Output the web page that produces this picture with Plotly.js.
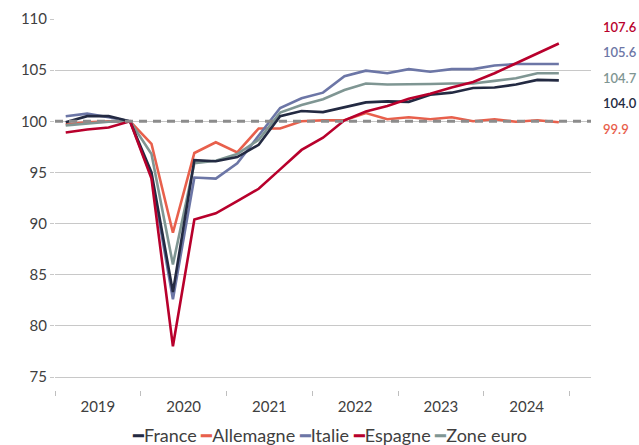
<!DOCTYPE html>
<html>
<head>
<meta charset="utf-8">
<script src="https://cdn.plot.ly/plotly-3.0.1.min.js"></script>
<style>
  html, body { margin: 0; padding: 0; background: #ffffff; }
  #chart { width: 639px; height: 445px; }
</style>
</head>
<body>
<div id="chart"></div>
<script>
// Quarterly index (2019Q4 = 100), 2019Q1 .. 2024Q4
const quarters = [
  "2019T1","2019T2","2019T3","2019T4",
  "2020T1","2020T2","2020T3","2020T4",
  "2021T1","2021T2","2021T3","2021T4",
  "2022T1","2022T2","2022T3","2022T4",
  "2023T1","2023T2","2023T3","2023T4",
  "2024T1","2024T2","2024T3","2024T4"
];
const years = ["2019", "2020", "2021", "2022", "2023", "2024"];

const seriesNames = ["France", "Allemagne", "Italie", "Espagne", "Zone euro"];
const seriesColors = ["#232a42", "#e8604c", "#6c76a6", "#b8002c", "#7f9693"];

const france    = [99.9, 100.5, 100.5, 100, 95.0, 83.3, 96.2, 96.1, 96.5, 97.7, 100.5, 101.0, 100.9, 101.4, 101.85, 101.95, 101.9, 102.6, 102.8, 103.25, 103.3, 103.6, 104.05, 104.0];
const allemagne = [99.7, 99.9, 100.0, 100, 97.8, 89.1, 96.9, 97.95, 96.95, 99.3, 99.3, 100.0, 100.1, 100.1, 100.8, 100.2, 100.4, 100.2, 100.4, 100.0, 100.2, 99.95, 100.1, 99.9];
const italie    = [100.5, 100.75, 100.4, 100, 94.6, 82.6, 94.5, 94.4, 95.9, 98.6, 101.3, 102.25, 102.8, 104.4, 104.95, 104.7, 105.1, 104.85, 105.1, 105.1, 105.45, 105.6, 105.6, 105.6];
const espagne   = [98.9, 99.2, 99.4, 100, 94.4, 78.0, 90.4, 91.0, 92.2, 93.4, 95.3, 97.2, 98.4, 100.1, 100.95, 101.5, 102.2, 102.7, 103.3, 103.85, 104.7, 105.65, 106.65, 107.6];
const zoneEuro  = [99.6, 99.8, 99.95, 100, 96.8, 86.0, 95.9, 96.15, 96.8, 98.2, 100.85, 101.6, 102.15, 103.05, 103.7, 103.6, 103.6, 103.65, 103.7, 103.7, 103.95, 104.2, 104.7, 104.7];

const baseValue = 100;
const allSeries = [france, allemagne, italie, espagne, zoneEuro];

// End labels order (top to bottom)
const labelOrder = [3, 2, 4, 0, 1];

const FONT = "Lato, 'Source Sans Pro', 'Noto Sans', sans-serif";
const xIdx = quarters.map((q, i) => i);

const traces = allSeries.map((vals, k) => ({
  type: "scatter",
  mode: "lines",
  x: xIdx,
  y: vals,
  name: seriesNames[k],
  text: quarters,
  line: { color: seriesColors[k], width: 2.6 },
  showlegend: false,
  hovertemplate: "%{text}: %{y}<extra>" + seriesNames[k] + "</extra>"
}));

// Draw order: Allemagne, Italie, Zone euro, France, Espagne
const drawOrder = [1, 2, 4, 0, 3];
const data = drawOrder.map(k => traces[k]);

const yearCenters = years.map((y, i) => i * 4 + 1.5);

const endLabelY = [0.978, 0.911, 0.841, 0.774, 0.704];
const annotations = labelOrder.map((k, j) => {
  const arr = allSeries[k];
  return {
    xref: "paper", yref: "paper",
    x: 1.019, y: endLabelY[j],
    xanchor: "left", yanchor: "middle",
    text: arr[arr.length - 1].toFixed(1),
    showarrow: false,
    font: { family: FONT, size: 13, color: seriesColors[k], weight: 600 }
  };
});

// Manual legend (short line symbols)
const legendText = seriesNames.map((n, k) =>
  '<span style="color:' + seriesColors[k] + '">━</span>' + n
).join(" ");
annotations.push({
  xref: "paper", yref: "paper",
  x: 0.513, y: -0.122,
  xanchor: "center", yanchor: "middle",
  text: legendText,
  showarrow: false,
  font: { family: FONT, size: 18, color: "#404040" }
});

const layout = {
  width: 639,
  height: 445,
  margin: { l: 55, r: 48, t: 19, b: 55, pad: 0 },
  paper_bgcolor: "#ffffff",
  plot_bgcolor: "#ffffff",
  font: { family: FONT, size: 15, color: "#404040" },
  showlegend: false,
  xaxis: {
    range: [-0.5, 24.5],
    tickmode: "array",
    tickvals: yearCenters,
    ticktext: years,
    ticks: "",
    ticklabelstandoff: 6,
    showgrid: false,
    zeroline: false,
    showline: false,
    tickfont: { family: FONT, size: 15, color: "#404040" },
    minor: {
      tickmode: "linear",
      tick0: -0.5,
      dtick: 4,
      ticks: "outside",
      ticklen: 5,
      tickwidth: 1,
      tickcolor: "#bfbfbf",
      showgrid: false
    },
    fixedrange: true
  },
  yaxis: {
    range: [73.73, 110],
    tickmode: "array",
    tickvals: [75, 80, 85, 90, 95, 100, 105, 110],
    ticks: "outside",
    ticklen: 4,
    tickcolor: "#c8c8c8",
    showgrid: true,
    gridcolor: "#c8c8c8",
    gridwidth: 1,
    zeroline: false,
    showline: false,
    tickfont: { family: FONT, size: 15, color: "#404040" },
    fixedrange: true
  },
  shapes: [{
    type: "line",
    xref: "paper", x0: 0, x1: 1,
    yref: "y", y0: baseValue, y1: baseValue,
    layer: "above",
    line: { color: "#8c8c8c", width: 3, dash: "8px,6px" }
  }],
  annotations: annotations
};

Plotly.newPlot("chart", data, layout, { displayModeBar: false, staticPlot: true });
</script>
</body>
</html>
